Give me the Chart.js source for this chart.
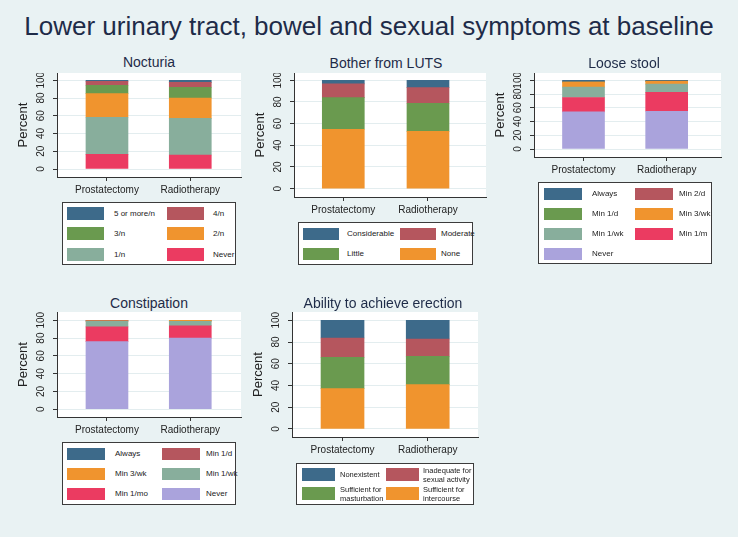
<!DOCTYPE html>
<html>
<head>
<meta charset="utf-8">
<script src="https://cdn.jsdelivr.net/npm/chart.js@4.4.0/dist/chart.umd.min.js"></script>
<style>
  body { margin: 0; background: #e9f2f3; }
  #wrap { position: relative; width: 738px; height: 537px; overflow: hidden; background: #e9f2f3;
          font-family: "Liberation Sans", Arial, sans-serif; }
  #main { position: absolute; left: 0; width: 738px; top: 26px; transform: translateY(-50%);
          text-align: center; font-size: 26px; color: #1e2b48; white-space: nowrap; }
  canvas { position: absolute; }
  .ptitle { position: absolute; font-size: 14px; color: #1e2b48; white-space: nowrap; transform: translate(-50%, -50%); }
  .leg { position: absolute; background: #fff; border: 1px solid #3c3c3c; box-sizing: border-box; }
  .sw { position: absolute; }
  .lt { position: absolute; font-size: 8px; color: #222; line-height: 1.25; transform: translateY(-50%); white-space: nowrap; }
  .lt.wrap { white-space: normal; width: 52px; font-size: 7.5px; }
</style>
</head>
<body>
<div id="wrap">
  <div id="main">Lower urinary tract, bowel and sexual symptoms at baseline</div>
</div>
<script>
// groups (x categories)
const groups = ['Prostatectomy', 'Radiotherapy'];
const yTicks = [0, 20, 40, 60, 80, 100];

// categories listed top of stack first (legend order)
const nocturiaCats  = ['5 or more/n', '4/n', '3/n', '2/n', '1/n', 'Never'];
const nocturiaProst = [1.1, 4.5, 9.4, 26.7, 41.8, 16.5];
const nocturiaRadio = [2.3, 5.6, 12.1, 23.0, 41.2, 15.8];

const lutsCats  = ['Considerable', 'Moderate', 'Little', 'None'];
const lutsProst = [3.4, 12.6, 29.2, 54.8];
const lutsRadio = [6.8, 14.4, 25.9, 52.9];

const looseCats  = ['Always', 'Min 2/d', 'Min 1/d', 'Min 3/wk', 'Min 1/wk', 'Min 1/m', 'Never'];
const looseProst = [1.8, 0.6, 0.6, 7.0, 15.0, 21.0, 54.0];
const looseRadio = [1.0, 0.2, 0.3, 4.0, 12.0, 27.5, 55.0];

const constCats  = ['Always', 'Min 1/d', 'Min 3/wk', 'Min 1/wk', 'Min 1/mo', 'Never'];
const constProst = [0.3, 0.3, 0.6, 6.3, 16.5, 76.0];
const constRadio = [0, 0, 1.2, 5.0, 13.8, 80.0];

const erectCats  = ['Nonexistent', 'Inadequate for sexual activity', 'Sufficient for masturbation', 'Sufficient for intercourse'];
const erectProst = [16.3, 17.7, 28.9, 37.1];
const erectRadio = [17.2, 15.9, 26.1, 40.8];

// colours
const navy = '#3d6a8a', mauve = '#b5565e', green = '#6a9a4f', orange = '#f0942e',
      sage = '#88ae9c', pink = '#eb3b61', lav = '#aaa3dc';

const panels = [
  { title: 'Nocturia', cats: nocturiaCats, prost: nocturiaProst, radio: nocturiaRadio,
    colors: [navy, mauve, green, orange, sage, pink],
    plot: [57, 73, 241, 177], y: [-9.0, 108.2], x: [-0.6, 1.609], bw: 42, t: [149, 62],
    leg: { box: [62, 202, 174, 63], sx: [5, 105], tx: [52, 151], ry: [5, 25, 46], sw: [37, 13] } },
  { title: 'Bother from LUTS', cats: lutsCats, prost: lutsProst, radio: lutsRadio,
    colors: [navy, mauve, green, orange],
    plot: [294, 73, 486, 197], y: [-7.7, 106.7], x: [-0.582, 1.685], bw: 42, t: [386, 63],
    leg: { box: [298, 222, 175, 43], sx: [5, 102], tx: [49, 143], ry: [6, 26], sw: [36, 12] } },
  { title: 'Loose stool', cats: looseCats, prost: looseProst, radio: looseRadio,
    colors: [navy, mauve, green, orange, sage, pink, lav],
    plot: [534, 73, 721, 157], y: [-11.6, 110.6], x: [-0.595, 1.653], bw: 42, t: [624, 63],
    leg: { box: [538, 182, 174, 82], sx: [6, 97], tx: [54, 141], ry: [6, 26, 46, 66], sw: [38, 12] } },
  { title: 'Constipation', cats: constCats, prost: constProst, radio: constRadio,
    colors: [navy, mauve, orange, sage, pink, lav],
    plot: [57, 312, 241, 417], y: [-8.7, 109.3], x: [-0.6, 1.609], bw: 42, t: [149, 303],
    leg: { box: [62, 442, 174, 63], sx: [5, 100], tx: [53, 144], ry: [6, 26, 46], sw: [38, 12] } },
  { title: 'Ability to achieve erection', cats: erectCats, prost: erectProst, radio: erectRadio,
    colors: [navy, mauve, green, orange],
    plot: [292, 312, 478, 437], y: [-7.4, 107.6], x: [-0.593, 1.59], bw: 43, t: [383, 303],
    leg: { box: [296, 463, 178, 42], sx: [6, 90], tx: [44, 127], ry: [5, 24], sw: [33, 13] }, wrap: true }
];

const FONT = '"Liberation Sans", Arial, sans-serif';

// white plot region + rotated y labels and axis title
const axisText = {
  id: 'axisText',
  beforeDraw(chart) {
    const a = chart.chartArea, c = chart.ctx;
    c.save();
    c.fillStyle = '#fff';
    c.fillRect(a.left, a.top, a.width, a.height);
    c.restore();
  },
  afterDraw(chart) {
    const ys = chart.scales.y, c = chart.ctx, a = chart.chartArea;
    c.save();
    c.fillStyle = '#222';
    c.textAlign = 'center';
    c.textBaseline = 'middle';
    c.font = '10px ' + FONT;
    yTicks.forEach(v => {
      c.save();
      c.translate(ys.right - 16, ys.getPixelForValue(v));
      c.rotate(-Math.PI / 2);
      c.fillText(String(v), 0, 0);
      c.restore();
    });
    c.font = '13px ' + FONT;
    c.translate(ys.right - 34, (a.top + a.bottom) / 2);
    c.rotate(-Math.PI / 2);
    c.fillText('Percent', 0, 0);
    c.restore();
  }
};

const wrap = document.getElementById('wrap');

panels.forEach(p => {
  const [l, t, r, b] = p.plot;
  const cv = document.createElement('canvas');
  const W = r - l + 52, H = b - t + 25;
  cv.width = W; cv.height = H;
  cv.style.left = (l - 50) + 'px';
  cv.style.top = t + 'px';
  wrap.appendChild(cv);

  const datasets = p.cats.map((c, i) => ({
    label: c,
    data: [{ x: 0, y: p.prost[i] }, { x: 1, y: p.radio[i] }],
    backgroundColor: p.colors[i],
    borderWidth: 0,
    barThickness: p.bw
  })).reverse();

  new Chart(cv, {
    type: 'bar',
    data: { datasets },
    options: {
      responsive: false, animation: false, devicePixelRatio: 1,
      layout: { padding: { left: 0, top: 0, right: 2, bottom: 0 } },
      plugins: { legend: { display: false }, tooltip: { enabled: false } },
      scales: {
        x: {
          type: 'linear', min: p.x[0], max: p.x[1], stacked: true, offset: false,
          afterBuildTicks: s => { s.ticks = [{ value: 0 }, { value: 1 }]; },
          afterFit: s => { s.height = 25; },
          ticks: { callback: v => groups[v], font: { size: 10, family: FONT }, color: '#222',
                   padding: 3, autoSkip: false, maxRotation: 0 },
          grid: { offset: false, drawOnChartArea: false, tickLength: 4, tickColor: '#333' },
          border: { color: '#333' }
        },
        y: {
          type: 'linear', min: p.y[0], max: p.y[1], stacked: true,
          afterBuildTicks: s => { s.ticks = yTicks.map(v => ({ value: v })); },
          afterFit: s => { s.width = 50; },
          ticks: { display: false },
          grid: { color: '#e3edef', tickLength: 4, tickColor: '#333' },
          border: { color: '#333' }
        }
      }
    },
    plugins: [axisText]
  });

  // panel title
  const ti = document.createElement('div');
  ti.className = 'ptitle';
  ti.textContent = p.title;
  ti.style.left = p.t[0] + 'px';
  ti.style.top = p.t[1] + 'px';
  wrap.appendChild(ti);

  // legend box, two columns, top of stack first
  const g = p.leg;
  const box = document.createElement('div');
  box.className = 'leg';
  box.style.left = g.box[0] + 'px'; box.style.top = g.box[1] + 'px';
  box.style.width = g.box[2] + 'px'; box.style.height = g.box[3] + 'px';
  p.cats.forEach((c, i) => {
    const col = i % 2, row = Math.floor(i / 2);
    const sw = document.createElement('div');
    sw.className = 'sw';
    sw.style.left = (g.sx[col] - 1) + 'px';
    sw.style.top = (g.ry[row] - 1) + 'px';
    sw.style.width = g.sw[0] + 'px';
    sw.style.height = g.sw[1] + 'px';
    sw.style.background = p.colors[i];
    box.appendChild(sw);
    const tx = document.createElement('div');
    tx.className = 'lt' + (p.wrap ? ' wrap' : '');
    tx.textContent = c;
    tx.style.left = (g.tx[col] - 1) + 'px';
    tx.style.top = (g.ry[row] - 1 + g.sw[1] / 2) + 'px';
    box.appendChild(tx);
  });
  wrap.appendChild(box);
});
</script>
</body>
</html>
